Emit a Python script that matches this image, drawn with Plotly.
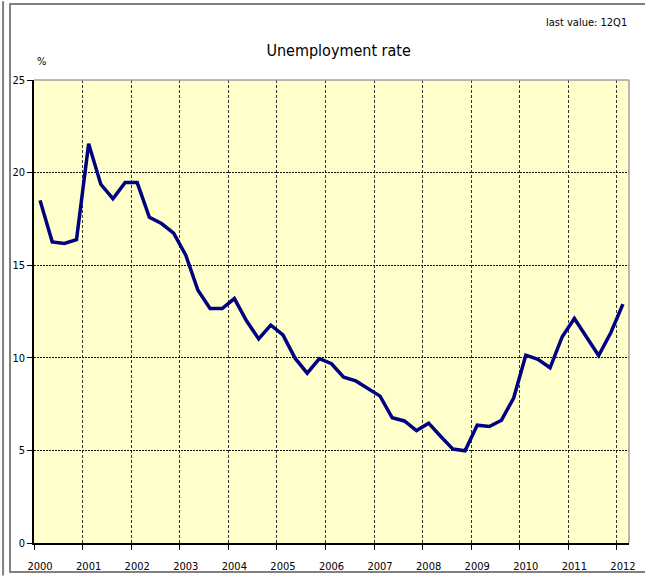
import plotly.graph_objects as go

years = list(range(2000, 2013))
quarters = [f"{y}Q{q}" for y in range(2000, 2013) for q in range(1, 5)][:49]
unemployment = [
    18.5, 16.26, 16.17, 16.38,
    21.56, 19.37, 18.59, 19.46,
    19.46, 17.59, 17.25, 16.73,
    15.54, 13.65, 12.66, 12.66,
    13.2, 12.0, 11.02, 11.76,
    11.24, 9.98, 9.17, 9.95,
    9.68, 8.95, 8.75, 8.34,
    7.93, 6.76, 6.59, 6.07,
    6.47, 5.75, 5.07, 4.98,
    6.36, 6.29, 6.63, 7.83,
    10.14, 9.92, 9.46, 11.14,
    12.12, 11.12, 10.12, 11.35,
    12.9,
]
year_labels = [str(y) for y in years]

FONT = "DejaVu Sans Condensed, Liberation Sans Narrow, Arial Narrow, sans-serif"
x_idx = list(range(len(quarters)))

fig = go.Figure()
fig.add_trace(go.Scatter(
    x=x_idx, y=unemployment, mode="lines",
    line=dict(color="#000080", width=3.5),
    customdata=quarters, hovertemplate="%{customdata}: %{y}<extra></extra>",
    showlegend=False,
))

fig.update_layout(
    width=645, height=576,
    margin=dict(l=34, r=16, t=80, b=33, pad=0, autoexpand=False),
    paper_bgcolor="white",
    plot_bgcolor="#FFFFCC",
    font=dict(family=FONT, size=11, color="black"),
    title=dict(text="Unemployment rate", x=0.525, xanchor="center", y=0.913, yanchor="middle",
               font=dict(family=FONT, size=16, color="black")),
)

fig.update_xaxes(
    automargin=False,
    range=[-0.5, len(quarters) - 0.5],
    tickmode="array", tickvals=x_idx[::4], ticktext=year_labels,
    ticks="", showgrid=False, zeroline=False,
    showline=True, linecolor="black", linewidth=1.5,
    ticklabelstandoff=12,
    tickfont=dict(family=FONT, size=11),
    minor=dict(tick0=-0.5, dtick=4, showgrid=True, gridcolor="#333333", griddash="3px,2px",
               gridwidth=1, ticks="outside", ticklen=5, tickcolor="black"),
)
fig.update_yaxes(
    automargin=False,
    range=[0, 25], tickmode="array", tickvals=[0, 5, 10, 15, 20, 25],
    ticks="outside", ticklen=5, tickcolor="black",
    showgrid=True, gridcolor="#111111", griddash="2px,1px", gridwidth=1,
    zeroline=False, showline=True, linecolor="black", linewidth=1.5,
    tickfont=dict(family=FONT, size=11),
)

# plot-area top/right border (gray) and outer chart frame
fig.add_shape(type="line", xref="x domain", yref="y domain", x0=0, x1=1, y0=1, y1=1,
              line=dict(color="#A0A0A0", width=1.5))
fig.add_shape(type="line", xref="x domain", yref="y domain", x0=1, x1=1, y0=0, y1=1,
              line=dict(color="#A0A0A0", width=1.5))
fig.add_shape(type="rect", xref="paper", yref="paper",
              x0=-0.0403, x1=1.05, y0=-0.0626, y1=1.164,
              line=dict(color="#808080", width=2), layer="below")
fig.add_shape(type="line", xref="paper", yref="paper",
              x0=-0.052, x1=-0.052, y0=-0.07, y1=1.17,
              line=dict(color="#808080", width=2))

fig.add_annotation(text="%", xref="paper", yref="paper", x=0.012, y=1.04,
                   xanchor="center", yanchor="middle", showarrow=False,
                   font=dict(family=FONT, size=11))
fig.add_annotation(text="last value: 12Q1", xref="paper", yref="paper", x=1.0, y=1.125,
                   xanchor="right", yanchor="middle", showarrow=False,
                   font=dict(family=FONT, size=11))

fig.write_html("out.html", config={"displayModeBar": False},
               post_script="document.body.style.margin='0';document.body.style.overflow='hidden';")
